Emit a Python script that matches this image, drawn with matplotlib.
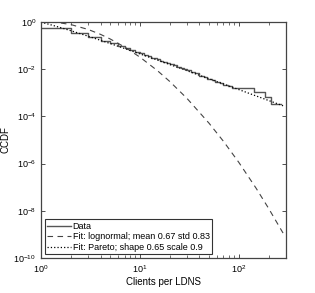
import matplotlib
matplotlib.use('Agg')
import matplotlib.pyplot as plt
import numpy as np
from matplotlib.ticker import LogLocator, NullFormatter, NullLocator

plt.rcParams['font.family'] = ['Liberation Sans', 'DejaVu Sans']
plt.rcParams['mathtext.fontset'] = 'custom'
plt.rcParams['mathtext.rm'] = 'Liberation Sans'
plt.rcParams['mathtext.it'] = 'Liberation Sans'

data_x = [1, 2, 3, 4, 5, 6, 7, 8, 9, 10, 11, 12, 13, 14, 15, 16, 17, 18, 19, 20,
          22, 24, 26, 28, 30, 33, 36, 40, 44, 48, 53, 58, 64, 70, 77, 85,
          100, 143, 183, 212, 266]
data_y = [0.550, 0.339, 0.234, 0.166, 0.126, 0.100, 0.0794, 0.0676, 0.0562, 0.0479,
          0.0417, 0.0355, 0.0316, 0.0288, 0.0263, 0.0234, 0.0214, 0.0195, 0.0182, 0.0166,
          0.0145, 0.0126, 0.0112, 0.0100, 0.00912, 0.00794, 0.00692, 0.00537, 0.00468,
          0.00398, 0.00347, 0.00302, 0.00251, 0.00219, 0.00191, 0.00166,
          0.00155, 0.00107, 6.6e-4, 3.47e-4, 3.47e-4]

# Fitted curves
fit_x = [1, 1.1, 1.25, 1.5, 2, 3, 4, 5, 7, 10, 15, 20, 30, 50, 70, 100, 150, 200, 280]
logn_y = [1.0, 1.0, 0.993, 0.950, 0.790, 0.489, 0.303, 0.194, 0.0882, 0.0329,
          0.00885, 0.00307, 5.77e-4, 5.18e-5, 8.8e-6, 1.13e-6, 8.9e-8, 1.27e-8, 1.14e-9]
pareto_y = [1.0, 0.898, 0.775, 0.623, 0.434, 0.253, 0.170, 0.124, 0.0762, 0.0451,
            0.0247, 0.0160, 0.00866, 0.00397, 0.00238, 0.00138, 7.39e-4, 4.75e-4, 2.84e-4]

fig = plt.figure(figsize=(3.15, 2.93), dpi=100)
ax = fig.add_axes([0.130, 0.1195, 0.778, 0.805])

ax.step(data_x, data_y, where='post', color='#555555', lw=1.0, label='Data')
ax.plot(fit_x, logn_y, '--', color='#444444', lw=0.8, dashes=(5, 4),
        label='Fit: lognormal; mean 0.67 std 0.83')
ax.plot(fit_x, pareto_y, ':', color='black', lw=0.9,
        label='Fit: Pareto; shape 0.65 scale 0.9')

ax.set_xscale('log')
ax.set_yscale('log')
ax.set_xlim(1, 300)
ax.set_ylim(1e-10, 1)
ax.set_yticks([1e-10, 1e-8, 1e-6, 1e-4, 1e-2, 1])
ax.yaxis.set_minor_locator(NullLocator())
ax.xaxis.set_minor_locator(LogLocator(base=10, subs=np.arange(2, 10)))
ax.xaxis.set_minor_formatter(NullFormatter())

ax.tick_params(which='both', direction='in', top=True, right=True,
               labelsize=6.5, color='#333333')
ax.tick_params(which='major', length=3, width=0.6)
ax.tick_params(which='minor', length=2, width=0.5)
for s in ax.spines.values():
    s.set_color('#444444')
    s.set_linewidth(0.9)

ax.set_xlabel('Clients per LDNS', fontsize=7, labelpad=2)
ax.set_ylabel('CCDF', fontsize=7)
ax.yaxis.set_label_coords(-0.125, 0.5)

leg = ax.legend(loc='lower left', fontsize=6.5, frameon=True, fancybox=False,
                edgecolor='black', handlelength=2.6, handletextpad=0.2,
                borderpad=0.3, labelspacing=0.15, borderaxespad=0.4)
leg.get_frame().set_linewidth(0.8)

fig.savefig('out.png', dpi=100)
print('saved')
